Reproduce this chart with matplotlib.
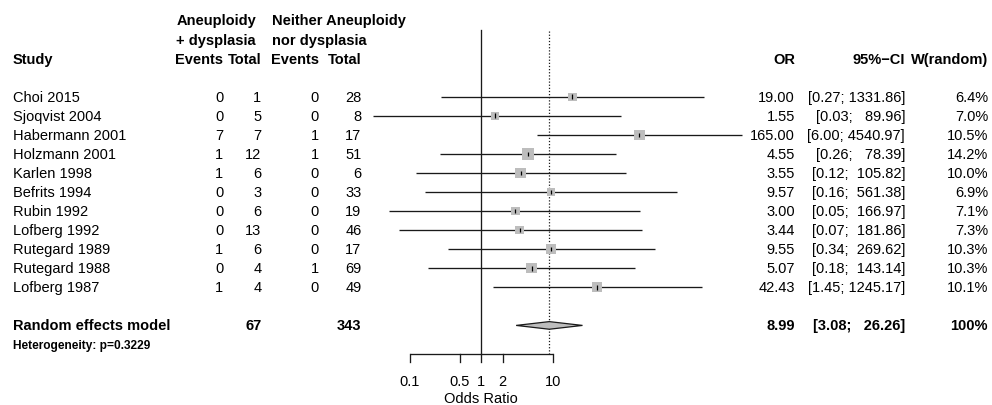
import numpy as np
import matplotlib
matplotlib.use("Agg")
import matplotlib.pyplot as plt
from matplotlib.transforms import blended_transform_factory

plt.rcParams['font.family'] = ['Liberation Sans', 'DejaVu Sans']

studies = ["Choi 2015", "Sjoqvist 2004", "Habermann 2001", "Holzmann 2001",
           "Karlen 1998", "Befrits 1994", "Rubin 1992", "Lofberg 1992",
           "Rutegard 1989", "Rutegard 1988", "Lofberg 1987"]
events_e = [0, 0, 7, 1, 1, 0, 0, 0, 1, 0, 1]
total_e = [1, 5, 7, 12, 6, 3, 6, 13, 6, 4, 4]
events_c = [0, 0, 1, 1, 0, 0, 0, 0, 0, 1, 0]
total_c = [28, 8, 17, 51, 6, 33, 19, 46, 17, 69, 49]
odds = [19.00, 1.55, 165.00, 4.55, 3.55, 9.57, 3.00, 3.44, 9.55, 5.07, 42.43]
ci_low = [0.27, 0.03, 6.00, 0.26, 0.12, 0.16, 0.05, 0.07, 0.34, 0.18, 1.45]
ci_high = [1331.86, 89.96, 4540.97, 78.39, 105.82, 561.38, 166.97, 181.86,
           269.62, 143.14, 1245.17]
weights = [6.4, 7.0, 10.5, 14.2, 10.0, 6.9, 7.1, 7.3, 10.3, 10.3, 10.1]

summary_or = 8.99
summary_low = 3.08
summary_high = 26.26
summary_total_e = 67
summary_total_c = 343
heterogeneity_p = "0.3229"
axis_ticks = [0.1, 0.5, 1, 2, 10]
axis_ticklabels = ["0.1", "0.5", "1", "2", "10"]

W, H = 992, 406
fig = plt.figure(figsize=(W / 100, H / 100), dpi=100)

# forest axes (log scale); pixel = 481.3 + 71.3*log10(x)
L, R = -2.2, 4.2
px0 = 481.3 + 71.3 * L
ax = fig.add_axes([px0 / W, 0, 71.3 * (R - L) / W, 1])
ax.set_xscale('log')
ax.set_xlim(10 ** L, 10 ** R)
ax.set_ylim(16.175, -5.126)
ax.axis('off')

FS = 10.5
tr = blended_transform_factory(fig.transFigure, ax.transData)


def txt(xpx, row, s, ha='right', bold=False, fs=FS):
    ax.text(xpx / W, row, s, transform=tr, ha=ha, va='center',
            fontsize=fs, fontweight='bold' if bold else 'normal',
            clip_on=False, color='black')


# headers
txt(176.5, -4, "Aneuploidy", ha='left', bold=True)
txt(176.5, -3, "+ dysplasia", ha='left', bold=True)
txt(272.5, -4, "Neither Aneuploidy", ha='left', bold=True)
txt(272.5, -3, "nor dysplasia", ha='left', bold=True)
txt(13, -2, "Study", ha='left', bold=True)
txt(223.5, -2, "Events", bold=True)
txt(261.5, -2, "Total", bold=True)
txt(318.5, -2, "Events", bold=True)
txt(361.5, -2, "Total", bold=True)
txt(795, -2, "OR", bold=True)
txt(905, -2, "95%\u2212CI", bold=True)
txt(988, -2, "W(random)", bold=True)

n = len(studies)
rows = np.arange(n)
lw_hi = max(len(f"{v:.2f}") for v in ci_high)
lw_lo = max(len(f"{v:.2f}") for v in ci_low)
for i in range(n):
    r = rows[i]
    txt(13, r, studies[i], ha='left')
    txt(223.5, r, str(events_e[i]))
    txt(261.5, r, str(total_e[i]))
    txt(318.5, r, str(events_c[i]))
    txt(361.5, r, str(total_c[i]))
    txt(795, r, f"{odds[i]:.2f}")
    txt(905, r, f"[{ci_low[i]:>{lw_lo}.2f}; {ci_high[i]:>{lw_hi}.2f}]")
    txt(988, r, f"{weights[i]:.1f}%")

# CI lines
ax.hlines(rows, ci_low, ci_high, color='#1a1a1a', lw=0.95, zorder=2)
# squares
side_px = 3.2 * np.sqrt(np.array(weights))
side_pt = side_px * 72 / 100
ax.scatter(odds, rows, s=side_pt ** 2, marker='s', color='#BDBDBD',
           edgecolors='none', zorder=3)
ax.vlines(odds, rows - 0.12, rows + 0.12, color='black', lw=0.9, zorder=4)

# summary
sr = 12
txt(13, sr, "Random effects model", ha='left', bold=True)
txt(261.5, sr, str(summary_total_e), bold=True)
txt(361.5, sr, str(summary_total_c), bold=True)
txt(795, sr, f"{summary_or:.2f}", bold=True)
txt(905, sr, f"[{summary_low:>{lw_lo}.2f}; {summary_high:>{lw_hi}.2f}]", bold=True)
txt(988, sr, "100%", bold=True)
txt(13, 13.05, f"Heterogeneity: p={heterogeneity_p}", ha='left', bold=True, fs=8.6)

dh = 0.2
ax.fill([summary_low, summary_or, summary_high, summary_or],
        [sr, sr - dh, sr, sr + dh], facecolor='#BDBDBD', edgecolor='#1a1a1a',
        lw=0.9, zorder=3)

# reference lines
ax.plot([1, 1], [-3.52, 13.5], color='#1a1a1a', lw=0.95, zorder=1)
ax.plot([summary_or, summary_or], [-3.43, 13.5], color='#1a1a1a', lw=0.9,
        ls=(0, (1, 1.5)), zorder=1)

# x axis
ax.plot([axis_ticks[0], axis_ticks[-1]], [13.5, 13.5], color='#1a1a1a', lw=0.95,
        solid_capstyle='butt')
for t, lab in zip(axis_ticks, axis_ticklabels):
    ax.plot([t, t], [13.5, 13.93], color='#1a1a1a', lw=0.95)
    ax.text(t, 14.92, lab, ha='center', va='center', fontsize=FS, clip_on=False)
ax.text(np.sqrt(axis_ticks[0] * axis_ticks[-1]) * 1.0, 15.8, "Odds Ratio",
        ha='center', va='center', fontsize=FS, clip_on=False)

fig.savefig("out.png", dpi=100)
